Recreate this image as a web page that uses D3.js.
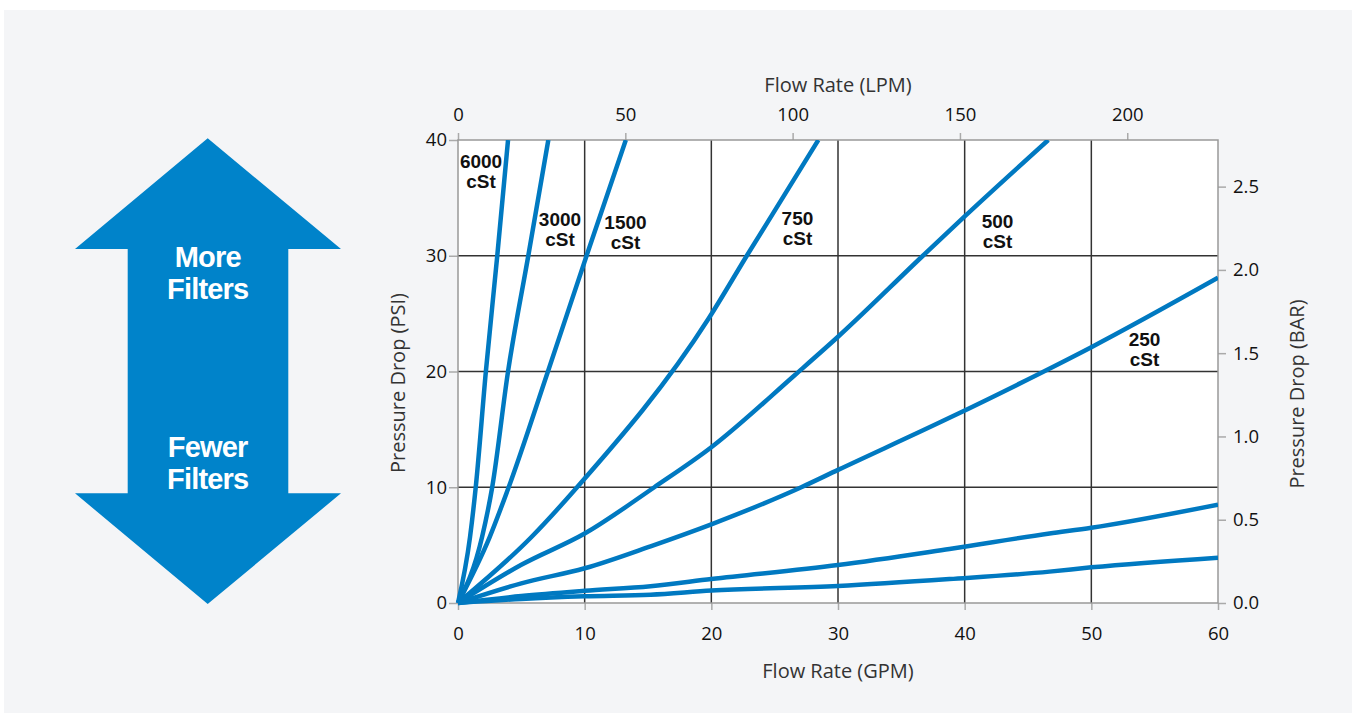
<!DOCTYPE html>
<html>
<head>
<meta charset="utf-8">
<script src="https://cdn.jsdelivr.net/npm/d3@7"></script>
<style>
  html, body { margin: 0; padding: 0; background: #ffffff; }
  svg { display: block; }
</style>
</head>
<body>
<script>
// viscosity curves, [GPM, PSI]
const visc6000 = [[0, 0], [0.95, 5.7], [1.4, 10], [2.2, 20], [3.1, 30], [3.95, 40]];
const visc3000 = [[0, 0], [1.9, 5.7], [2.7, 10], [3.95, 20], [5.55, 30], [7.13, 40]];
const visc1500 = [[0, 0], [2.5, 5.7], [4.0, 10], [7.1, 20], [10.15, 30], [13.25, 40]];
const visc750 = [[0, 0], [5.8, 5.7], [9.4, 10], [19.8, 24.6], [22.8, 30], [28.45, 40]];
const visc500 = [[0, 0], [5, 3.3], [10, 6.0], [15.5, 10], [20, 13.45], [26.6, 19.7], [30, 23], [36.7, 30], [40, 33.4], [46.6, 40]];
const visc250 = [[0, 0], [5, 1.7], [10, 3.0], [15.2, 4.9], [20, 6.8], [27.1, 10], [30, 11.5], [38.8, 16], [45.7, 19.7], [50, 22.1], [60, 28.1]];
const viscLowA = [[0, 0], [5, 0.6], [10, 1.05], [15.2, 1.45], [20, 2.07], [30, 3.28], [38.8, 4.67], [46.7, 6.0], [50, 6.5], [60, 8.5]];
const viscLowB = [[0, 0], [5, 0.35], [10, 0.58], [15.2, 0.72], [20, 1.07], [30, 1.47], [38.8, 2.07], [46.7, 2.71], [50, 3.08], [60, 3.92]];

const curves = [visc6000, visc3000, visc1500, visc750, visc500, visc250, viscLowA, viscLowB];

// curve labels: [name], [GPM of centre, PSI of first baseline]
const labelNames = ["6000", "3000", "1500", "750", "500", "250"];
const labelPos = [[1.82, 37.55], [8.05, 32.57], [13.22, 32.31], [26.8, 32.66], [42.6, 32.37], [54.2, 22.2]];

const gpmTicks = [0, 10, 20, 30, 40, 50, 60];
const psiTicks = [0, 10, 20, 30, 40];
const lpmTicks = [0, 50, 100, 150, 200];
const barTicks = [0, 0.5, 1.0, 1.5, 2.0, 2.5];

const width = 1352;
const height = 713;
const blue = "#0079c1";
const font = "'Open Sans', 'Noto Sans', sans-serif";
const boldFont = "'Liberation Sans', Arial, sans-serif";

const x = d3.scaleLinear().domain([0, 60]).range([458, 1218]);
const y = d3.scaleLinear().domain([0, 40]).range([603, 140]);
const xLpm = d3.scaleLinear().domain([0, 227.12]).range([458, 1218]);
const yBar = d3.scaleLinear().domain([0, 2.78]).range([603, 140]);

const svg = d3.select("body").append("svg")
    .attr("width", width)
    .attr("height", height);

svg.append("rect")
    .attr("x", 4).attr("y", 10)
    .attr("width", width - 4).attr("height", height - 10)
    .attr("fill", "#f4f5f7");

// ARROW
const arrow = svg.append("g");
arrow.append("path")
    .attr("d", "M207.7,138.3 L341,249 L288.3,249 L288.3,493.3 L341,493.3 L207.7,604 L75,493.3 L127.7,493.3 L127.7,249 L75,249 Z")
    .attr("fill", "#0083ca");
[["More", 267.3], ["Filters", 299.3], ["Fewer", 457.3], ["Filters", 489.3]].forEach(([t, ty]) => {
    arrow.append("text")
        .attr("x", 207.7).attr("y", ty)
        .attr("text-anchor", "middle")
        .attr("fill", "#fff")
        .style("font-family", boldFont)
        .style("font-weight", "bold")
        .style("font-size", "29px")
        .style("letter-spacing", "-0.8px")
        .text(t);
});

// PLOT AREA
svg.append("rect")
    .attr("x", x(0)).attr("y", y(40))
    .attr("width", x(60) - x(0)).attr("height", y(0) - y(40))
    .attr("fill", "#fff");

const styleAxis = (g) => {
    g.select(".domain").remove();
    g.selectAll(".tick line").attr("stroke", "#aaa").attr("stroke-width", 1.5);
    g.selectAll(".tick text").attr("fill", "#111").style("font-family", font).style("font-size", "18.5px");
};

svg.append("g").attr("transform", `translate(0, ${y(0)})`)
    .call(d3.axisBottom(x).tickValues(gpmTicks).tickSize(7).tickPadding(17).tickFormat(d3.format("d")))
    .call(styleAxis);
svg.append("g").attr("transform", `translate(0, ${y(40)})`)
    .call(d3.axisTop(xLpm).tickValues(lpmTicks).tickSize(7).tickPadding(12).tickFormat(d3.format("d")))
    .call(styleAxis);
svg.append("g").attr("transform", `translate(${x(0)}, 0)`)
    .call(d3.axisLeft(y).tickValues(psiTicks).tickSize(9).tickPadding(2).tickFormat(d3.format("d")))
    .call(styleAxis);
svg.append("g").attr("transform", `translate(${x(60)}, 0)`)
    .call(d3.axisRight(yBar).tickValues(barTicks).tickSize(8).tickPadding(7).tickFormat(d3.format(".1f")))
    .call(styleAxis);

// GRID
const grid = svg.append("g").attr("stroke", "#333").attr("stroke-width", 1.5);
grid.selectAll(".vg").data(gpmTicks.slice(1, -1)).enter().append("line")
    .attr("x1", (d) => x(d)).attr("x2", (d) => x(d))
    .attr("y1", y(0)).attr("y2", y(40));
grid.selectAll(".hg").data(psiTicks.slice(1, -1)).enter().append("line")
    .attr("x1", x(0)).attr("x2", x(60))
    .attr("y1", (d) => y(d)).attr("y2", (d) => y(d));

svg.append("rect")
    .attr("x", x(0)).attr("y", y(40))
    .attr("width", x(60) - x(0)).attr("height", y(0) - y(40))
    .attr("fill", "none").attr("stroke", "#999").attr("stroke-width", 1.5);

// CURVES
svg.append("clipPath").attr("id", "plot-clip")
    .append("rect")
    .attr("x", x(0) - 3).attr("y", y(40))
    .attr("width", x(60) - x(0) + 3).attr("height", y(0) - y(40) + 3);

const line = d3.line()
    .x((d) => x(d[0]))
    .y((d) => y(d[1]))
    .curve(d3.curveMonotoneX);

svg.append("g").attr("clip-path", "url(#plot-clip)")
    .selectAll("path")
    .data(curves)
    .enter()
    .append("path")
    .attr("d", line)
    .attr("fill", "none")
    .attr("stroke", blue)
    .attr("stroke-width", 4.5)
    .attr("stroke-linejoin", "round");

// CURVE LABELS
const labels = svg.append("g")
    .style("font-family", boldFont)
    .style("font-weight", "bold")
    .style("font-size", "19px")
    .attr("fill", "#111")
    .attr("text-anchor", "middle");
labelNames.forEach((name, i) => {
    const cx = x(labelPos[i][0]);
    const cy = y(labelPos[i][1]);
    labels.append("text").attr("x", cx).attr("y", cy).text(name);
    labels.append("text").attr("x", cx).attr("y", cy + 20).text("cSt");
});

// AXIS TITLES
const title = (t, tx, ty, rot) => svg.append("text")
    .attr("transform", `translate(${tx}, ${ty}) rotate(${rot})`)
    .attr("text-anchor", "middle")
    .attr("fill", "#333")
    .style("font-family", font)
    .style("font-size", "20px")
    .text(t);

title("Flow Rate (LPM)", 838, 92, 0);
title("Flow Rate (GPM)", 838, 678, 0);
title("Pressure Drop (PSI)", 405, 383, -90);
title("Pressure Drop (BAR)", 1304, 394, -90);
</script>
</body>
</html>
